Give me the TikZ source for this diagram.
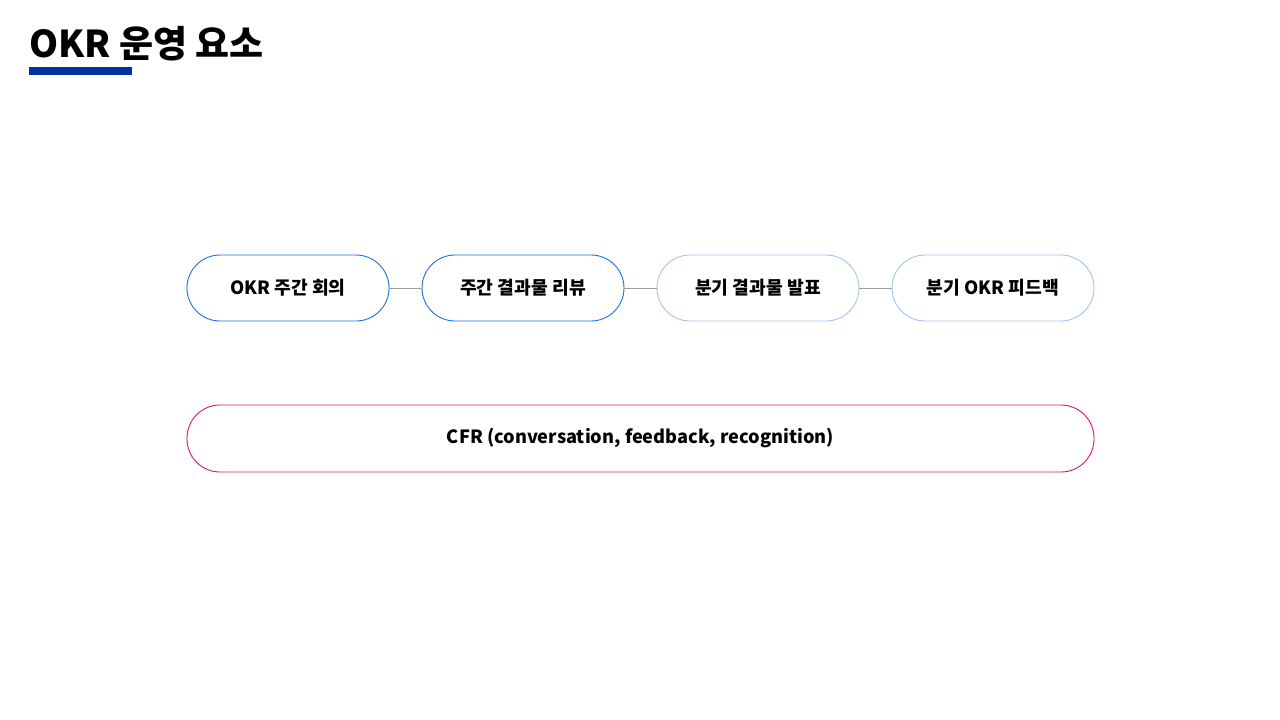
\documentclass[tikz,border=0pt]{standalone}
\usepackage{fontspec}
\setmainfont{Noto Sans CJK KR}
\usetikzlibrary{calc}

\definecolor{titlebar}{HTML}{0033A0}
\definecolor{stepblue}{HTML}{1A73E8}
\definecolor{steplight}{HTML}{A4C2F4}
\definecolor{cfrpink}{HTML}{E0117F}
\definecolor{linkgray}{HTML}{9E9E9E}

\begin{document}
\begin{tikzpicture}[x=1pt, y=-1pt,
    pill/.style={draw, line width=0.9pt, fill=white, rounded corners=33pt,
        minimum width=202pt, minimum height=66pt, inner sep=0pt,
        font=\fontsize{18.2pt}{22pt}\selectfont\bfseries},
    link/.style={draw=linkgray, line width=0.7pt}]

    % page frame
    \useasboundingbox (0,0) rectangle (1280,720);

    % title
    \node[anchor=base west, inner sep=0pt, font=\fontsize{37pt}{42pt}\selectfont\bfseries]
        (title) at (29,57) {OKR 운영 요소};
    \fill[titlebar] (29,67) rectangle (132,75);

    % step pills
    \node[pill, draw=stepblue]  (weekly)   at (288,288) {OKR 주간 회의};
    \node[pill, draw=stepblue]  (review)   at (523,288) {주간 결과물 리뷰};
    \node[pill, draw=steplight] (present)  at (758,288) {분기 결과물 발표};
    \node[pill, draw=steplight] (feedback) at (993,288) {분기 OKR 피드백};

    % links between pills
    \draw[link] (weekly.east) -- (review.west);
    \draw[link] (review.east) -- (present.west);
    \draw[link] (present.east) -- (feedback.west);

    % CFR bar
    \node[pill, draw=cfrpink, minimum width=907pt, minimum height=67pt]
        (cfr) at (640.5,438.5) {CFR (conversation, feedback, recognition)};

\end{tikzpicture}
\end{document}
